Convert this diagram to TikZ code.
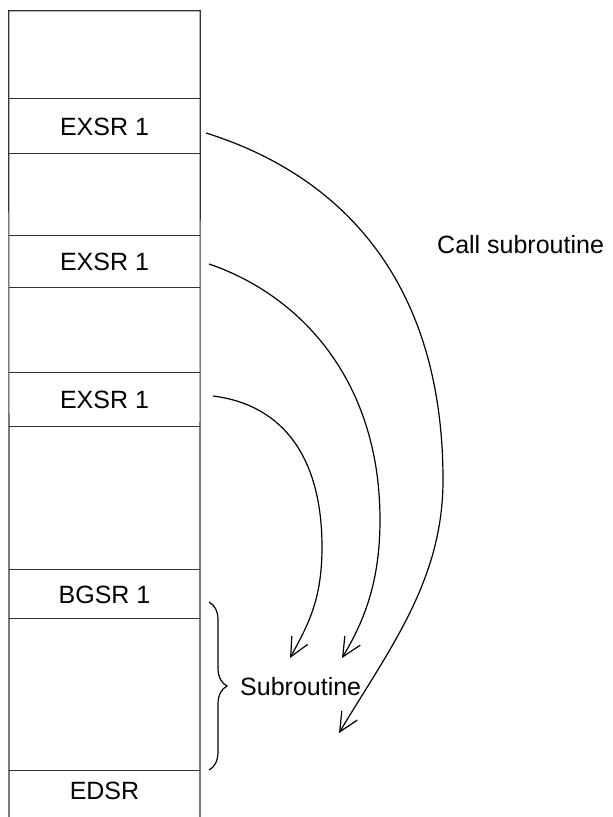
\documentclass[tikz,border=0pt]{standalone}
\usepackage{fontspec}
\setmainfont{Liberation Sans}
\usetikzlibrary{arrows.meta,decorations.pathreplacing}
\tikzset{
  cell/.style={rectangle, inner sep=0pt, minimum width=191pt, font=\fontsize{25}{28}\selectfont},
  rule/.style={line width=1.2pt, draw=black!80},
  call/.style={line width=1.2pt, draw=black, -{Straight Barb[length=19pt,width=18pt,line width=1.2pt]}},
  lbl/.style={inner sep=0pt, font=\fontsize{25}{28}\selectfont},
}
\begin{document}
\begin{tikzpicture}[x=1pt,y=-1pt]
\useasboundingbox (0,0) rectangle (613,817);
% cells
\node[cell, minimum height=88] (top) at (104.5,55) {};
\node[cell, minimum height=55] (ex1) at (104.5,126.5) {EXSR 1};
\node[cell, minimum height=82] (gap1) at (104.5,195) {};
\node[cell, minimum height=52] (ex2) at (104.5,262) {EXSR 1};
\node[cell, minimum height=85] (gap2) at (104.5,330.5) {};
\node[cell, minimum height=54] (ex3) at (104.5,400) {EXSR 1};
\node[cell, minimum height=143] (gap3) at (104.5,498.5) {};
\node[cell, minimum height=49] (bg) at (104.5,594.5) {BGSR 1};
\node[cell, minimum height=152] (body) at (104.5,695) {};
\node[cell, minimum height=40] (ed) at (104.5,791) {EDSR};
% column outline
\draw[rule] (9,817) -- (top.north west) -- (top.north east) -- (200,817);
% separators
\foreach \c in {ex1,gap1,ex2,gap2,ex3,gap3,bg,body,ed}
  \draw[rule] (\c.north west) -- (\c.north east);
% labels
\node[lbl, anchor=west] (callsub) at (437,245) {Call subroutine};
\node[lbl, anchor=west] (sub) at (240,687) {Subroutine};
% brace
\draw[line width=1.2pt, decorate, decoration={brace, amplitude=18pt}] (209,602) -- (209,770);
% connectors
\coordinate (s1) at (206,133);
\coordinate (t1) at (339,733);
\coordinate (s2) at (209,264);
\coordinate (t2) at (342,658);
\coordinate (s3) at (213,396);
\coordinate (t3) at (290,658);
\draw[call] (s1) .. controls (340,175) and (443,280) .. (443,480)
                 .. controls (443,580) and (390,648) .. (t1);
\draw[call] (s2) .. controls (300,295) and (380,380) .. (380,520)
                 .. controls (380,580) and (365,620) .. (t2);
\draw[call] (s3) .. controls (285,405) and (322,460) .. (322,547)
                 .. controls (322,600) and (308,625) .. (t3);
\end{tikzpicture}
\end{document}
